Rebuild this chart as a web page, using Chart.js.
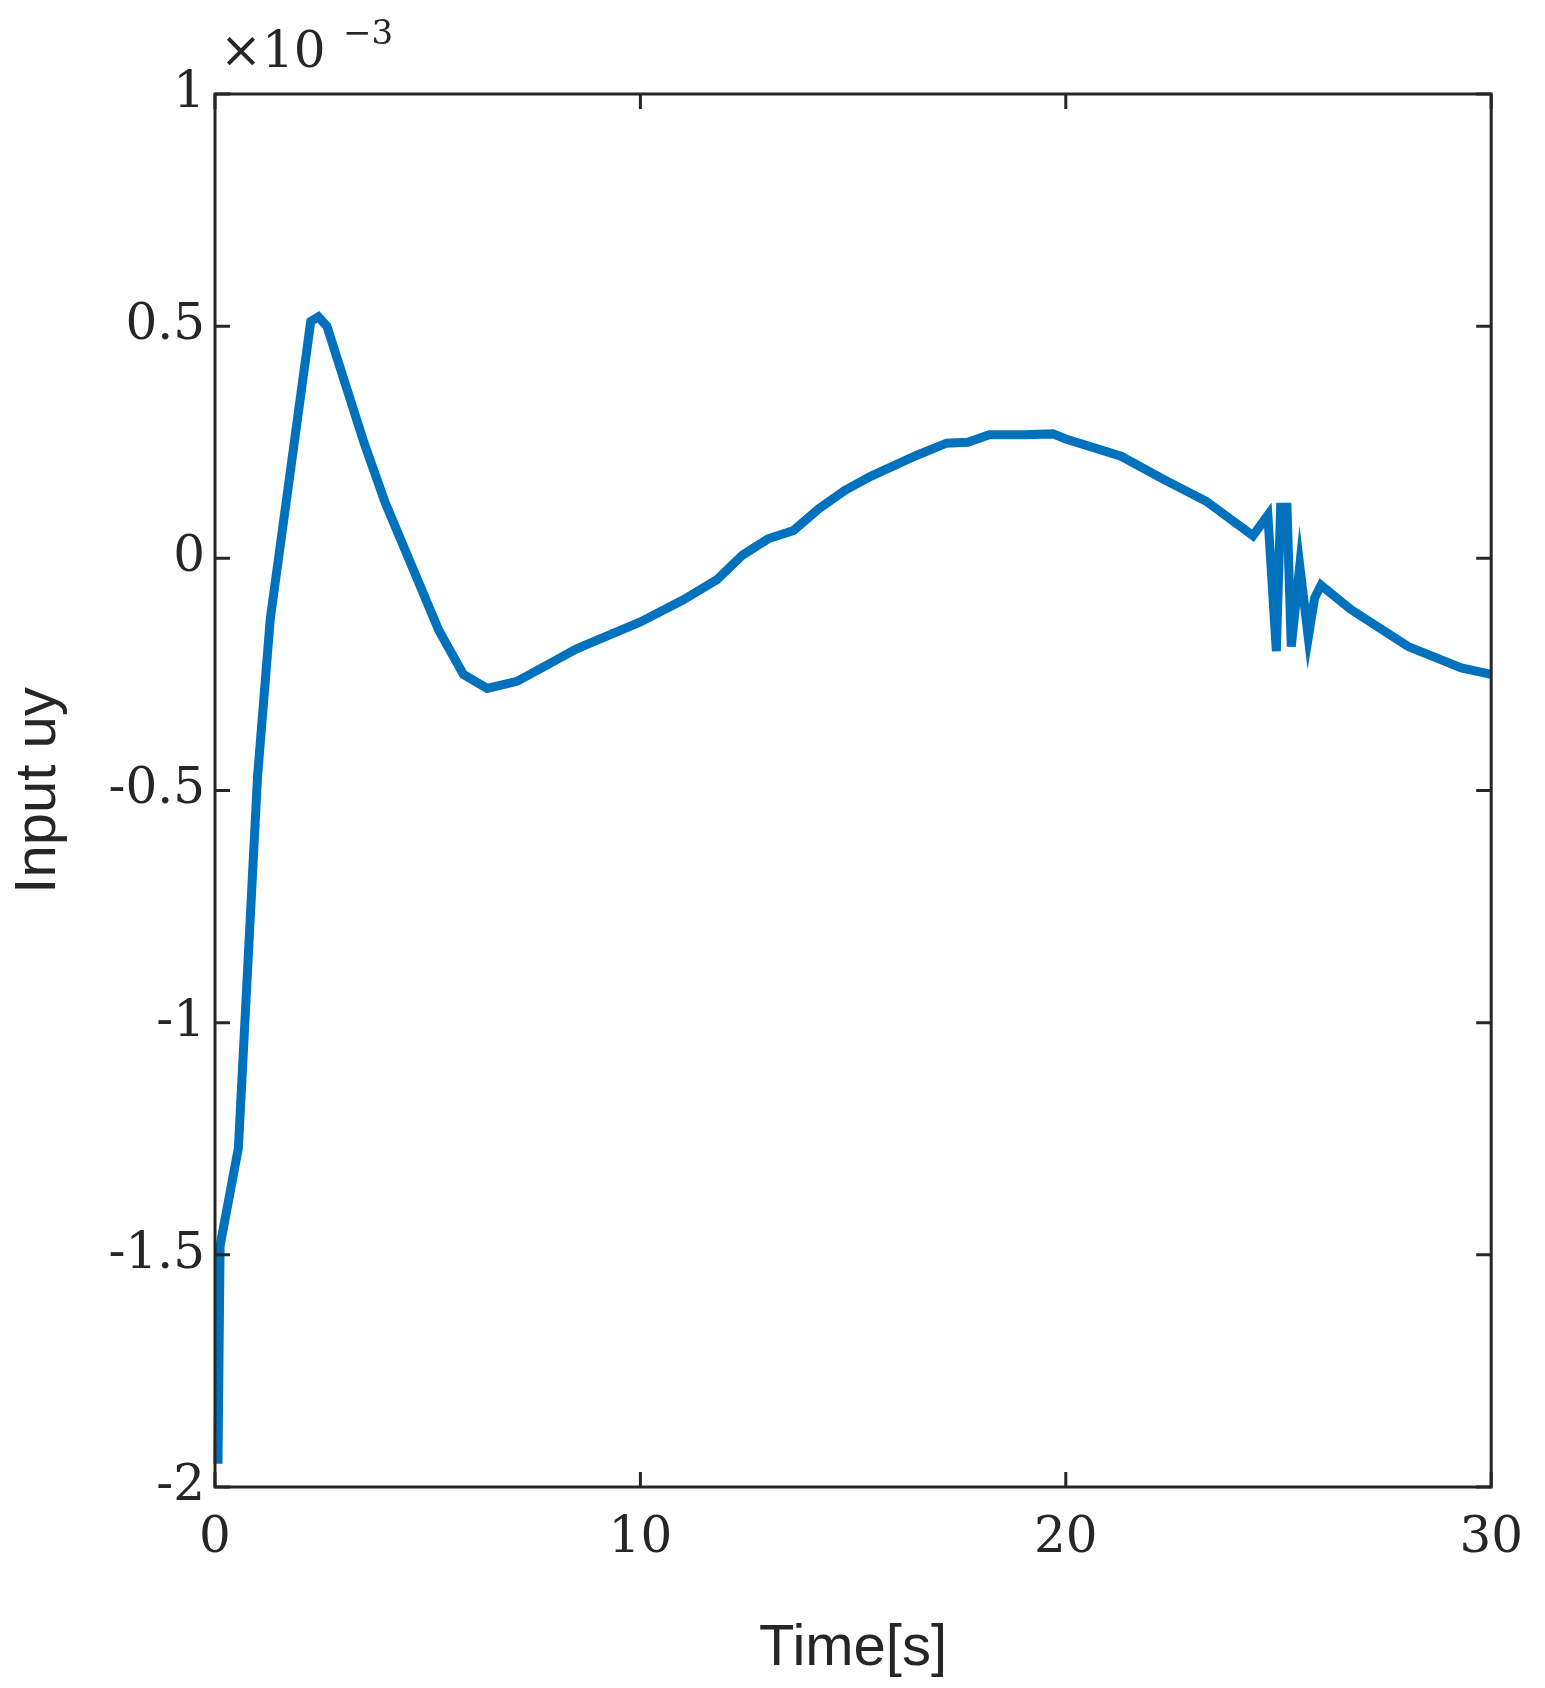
<!DOCTYPE html>
<html>
<head>
<meta charset="utf-8">
<script src="https://cdn.jsdelivr.net/npm/chart.js@4/dist/chart.umd.min.js"></script>
<style>
  html, body { margin: 0; background: #fff; }
  #wrap { width: 1545px; height: 1688px; }
</style>
</head>
<body>
<div id="wrap"><canvas id="c"></canvas></div>
<script>
// time [s]
const times = [0.07, 0.12, 0.55, 1.0, 1.3, 2.25, 2.43, 2.63, 3.5, 4.0, 5.26, 5.84, 6.4, 7.1, 7.8, 8.5,
  10.0, 11.0, 11.8, 12.4, 13.0, 13.6, 14.2, 14.8, 15.4, 16.5, 17.2, 17.7, 18.2, 19.0, 19.7, 20.0,
  21.3, 22.3, 23.3, 24.4, 24.75, 24.95, 25.05, 25.2, 25.3, 25.5, 25.7, 25.85, 26.0, 26.7, 28.05, 29.3, 30.0];
// input uy (x 1e-3)
const uy = [-1.95, -1.48, -1.27, -0.47, -0.13, 0.51, 0.52, 0.5, 0.25, 0.12, -0.155, -0.25, -0.28, -0.265, -0.23, -0.195,
  -0.137, -0.09, -0.046, 0.007, 0.042, 0.06, 0.107, 0.146, 0.176, 0.222, 0.248, 0.25, 0.266, 0.266, 0.268, 0.257,
  0.22, 0.17, 0.123, 0.049, 0.093, -0.2, 0.11, 0.11, -0.19, -0.016, -0.17, -0.085, -0.058, -0.11, -0.19, -0.236, -0.25];
const xTicks = [0, 10, 20, 30];
const yTicks = [-2, -1.5, -1, -0.5, 0, 0.5, 1];

const ink = '#262626';
const serif = "'DejaVu Serif', 'Liberation Serif', serif";

// box, inward ticks on all four sides, and the exponent label
const boxPlugin = {
  id: 'box',
  afterDraw(chart) {
    const { ctx, chartArea: a, scales: { x, y } } = chart;
    ctx.save();
    ctx.strokeStyle = ink;
    ctx.lineWidth = 3;
    ctx.strokeRect(a.left, a.top, a.right - a.left, a.bottom - a.top);
    const len = 15;
    ctx.beginPath();
    xTicks.forEach(t => {
      const px = x.getPixelForValue(t);
      ctx.moveTo(px, a.bottom); ctx.lineTo(px, a.bottom - len);
      ctx.moveTo(px, a.top); ctx.lineTo(px, a.top + len);
    });
    yTicks.forEach(t => {
      const py = y.getPixelForValue(t);
      ctx.moveTo(a.left, py); ctx.lineTo(a.left + len, py);
      ctx.moveTo(a.right, py); ctx.lineTo(a.right - len, py);
    });
    ctx.stroke();
    ctx.fillStyle = ink;
    ctx.textBaseline = 'alphabetic';
    ctx.font = '50px ' + serif;
    ctx.fillText('\u00d710', a.left + 5, a.top - 27);
    ctx.font = '34px ' + serif;
    ctx.fillText('\u22123', a.left + 128, a.top - 50);
    ctx.restore();
  }
};

new Chart(document.getElementById('c'), {
  type: 'scatter',
  data: {
    datasets: [{
      data: times.map((t, i) => ({ x: t, y: uy[i] })),
      showLine: true,
      borderColor: '#0072BD',
      borderWidth: 9,
      pointRadius: 0,
      tension: 0
    }]
  },
  options: {
    responsive: true,
    maintainAspectRatio: false,
    animation: false,
    clip: false,
    layout: { padding: { top: 94, right: 45, left: 0, bottom: 0 } },
    plugins: { legend: { display: false }, tooltip: { enabled: false } },
    scales: {
      x: {
        type: 'linear', min: 0, max: 30,
        afterBuildTicks: s => { s.ticks = xTicks.map(v => ({ value: v })); },
        afterFit: s => { s.height = 201; },
        grid: { display: false, drawTicks: false },
        border: { display: false },
        ticks: { color: ink, font: { family: serif, size: 50 }, padding: 22 },
        title: { display: true, text: 'Time[s]', color: ink, font: { family: 'Liberation Sans, Arial', size: 58 }, padding: { top: 20 } }
      },
      y: {
        min: -2, max: 1,
        afterBuildTicks: s => { s.ticks = yTicks.map(v => ({ value: v })); },
        afterFit: s => { s.width = 215; },
        grid: { display: false, drawTicks: false },
        border: { display: false },
        ticks: { color: ink, font: { family: serif, size: 50 }, padding: 10,
          callback: v => String(v).replace('-', '-') },
        title: { display: true, text: 'Input uy', color: ink, font: { family: 'Liberation Sans, Arial', size: 58 }, padding: { bottom: 10 } }
      }
    }
  },
  plugins: [boxPlugin]
});
</script>
</body>
</html>
